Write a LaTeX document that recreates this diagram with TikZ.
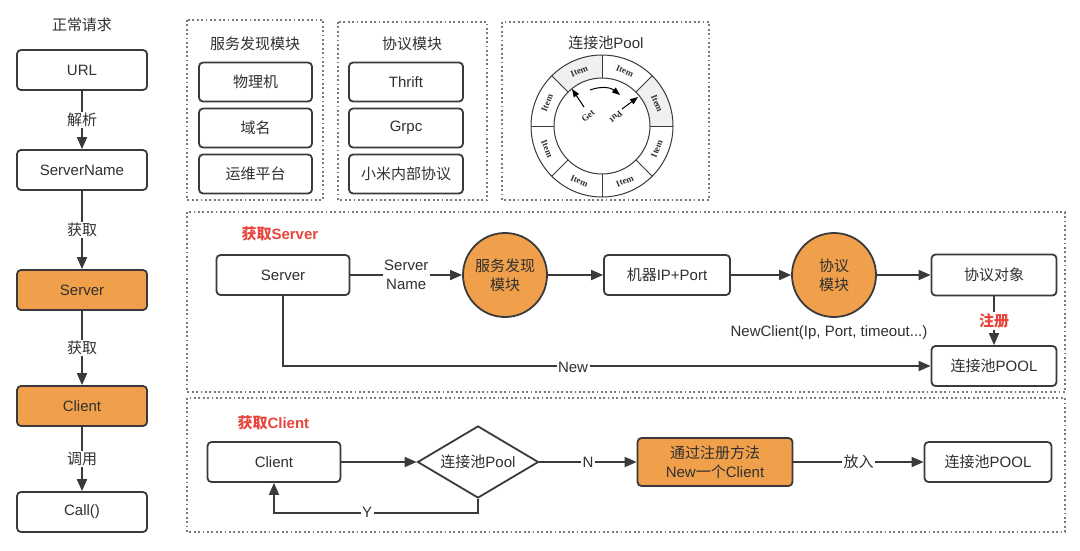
\documentclass[tikz,border=0pt]{standalone}
\usepackage{fontspec}
\setmainfont{Liberation Sans}
\newfontfamily\cjk{Noto Sans CJK SC}
\newfontfamily\itemfont{Liberation Serif}
\usetikzlibrary{arrows.meta,shapes.geometric}
\definecolor{dk}{HTML}{3A3A3A}
\definecolor{txt}{HTML}{303030}
\definecolor{org}{HTML}{F0A04B}
\definecolor{rd}{HTML}{E8453C}
\definecolor{dotc}{HTML}{7A7A7A}
\begin{document}
\begin{tikzpicture}[x=1pt,y=-1pt,
 every node/.style={font=\fontsize{15}{17}\selectfont, text=txt},
 box/.style={draw=dk, line width=1.8pt, rounded corners=4pt, minimum width=130pt, minimum height=40pt, inner sep=0pt, fill=white},
 obox/.style={box, fill=org},
 ocirc/.style={circle, draw=dk, line width=1.8pt, fill=org, minimum size=84pt, inner sep=0pt, align=center, font=\fontsize{15}{19}\selectfont},
 arr/.style={draw=dk, line width=1.8pt, -{Triangle[length=12pt,width=10pt]}},
 lbl/.style={fill=white, inner sep=1.5pt},
 frame/.style={draw=dotc, line width=2pt, dash pattern=on 1.8pt off 2.6pt},
 rtitle/.style={text=rd, font=\fontsize{15}{18}\selectfont\bfseries, anchor=west},
 itm/.style={font=\itemfont\bfseries\fontsize{9}{9}\selectfont, inner sep=0pt},
]
\useasboundingbox[fill=white] (0,0) rectangle (1080,550);

% ---------- left column ----------
\node (t0) at (82,25) {\cjk 正常请求};
\node[box] (url) at (82,70) {URL};
\node[box] (sn) at (82,170) {ServerName};
\node[obox] (sv) at (82,290) {Server};
\node[obox] (cli) at (82,406) {Client};
\node[box] (call) at (82,512) {Call()};
\draw[arr] (url) -- node[lbl]{\cjk 解析} (sn);
\draw[arr] (sn) -- node[lbl]{\cjk 获取} (sv);
\draw[arr] (sv) -- node[lbl]{\cjk 获取} (cli);
\draw[arr] (cli) -- node[lbl]{\cjk 调用} (call);

% ---------- top frames ----------
\draw[frame] (187,20) rectangle (323,200);
\node (t1) at (255,44) {\cjk 服务发现模块};
\node[box, minimum width=113pt, minimum height=39pt] (b11) at (255.5,82) {\cjk 物理机};
\node[box, minimum width=113pt, minimum height=39pt] (b12) at (255.5,128) {\cjk 域名};
\node[box, minimum width=113pt, minimum height=39pt] (b13) at (255.5,174) {\cjk 运维平台};

\draw[frame] (338,22) rectangle (487,200);
\node (t2) at (412,44) {\cjk 协议模块};
\node[box, minimum width=114pt, minimum height=39pt] (b21) at (406,82) {Thrift};
\node[box, minimum width=114pt, minimum height=39pt] (b22) at (406,128) {Grpc};
\node[box, minimum width=114pt, minimum height=39pt] (b23) at (406,174) {\cjk 小米内部协议};

\draw[frame] (502,22) rectangle (709,200);
\node (t3) at (606,43) {{\cjk 连接池}Pool};
\begin{scope}[shift={(602,126)}, y=1pt]
  \fill[gray!12] (0:48) arc[start angle=0,end angle=45,radius=48] -- (45:71) arc[start angle=45,end angle=0,radius=71] -- cycle;
  \fill[gray!12] (90:48) arc[start angle=90,end angle=135,radius=48] -- (135:71) arc[start angle=135,end angle=90,radius=71] -- cycle;
  \draw[line width=1pt, draw=dk] (0,0) circle[radius=71];
  \draw[line width=1pt, draw=dk] (0,0) circle[radius=48];
  \foreach \a in {0,45,...,315} \draw[line width=1pt, draw=dk] (\a:48) -- (\a:71);
  \foreach \a in {22.5,67.5,...,337.5} {
    \pgfmathsetmacro\rot{ifthenelse(sin(\a)>0,\a-90,\a+90)}
    \node[itm, rotate=\rot] at (\a:59.5) {Item};
  }
  \draw[line width=1pt, draw=black, -{Triangle[length=8pt,width=6pt]}] (-18,19) -- (-30,37);
  \node[itm, rotate=40] at (-14,10) {Get};
  \draw[line width=1pt, draw=black, -{Triangle[length=8pt,width=6pt]}] (20,17) -- (36,29);
  \node[itm, rotate=-140] at (14,9) {Put};
  \draw[line width=1pt, draw=black, -{Triangle[length=8pt,width=6pt]}] (-12,36) to[bend left=30] (18,31);
\end{scope}

% ---------- middle: get server ----------
\draw[frame] (187,212) rectangle (1065,392);
\node[rtitle] (t4) at (238,234) {{\cjk 获取}Server};
\node[box, minimum width=133pt] (srv2) at (283,275) {Server};
\node[ocirc] (c1) at (505,275) {\cjk 服务发现\\\cjk 模块};
\node[box, minimum width=126pt] (ip) at (667,275) {{\cjk 机器}IP+Port};
\node[ocirc] (c2) at (834,275) {\cjk 协议\\\cjk 模块};
\node[box, minimum width=125pt, minimum height=41pt] (proto) at (994,275) {\cjk 协议对象};
\node[box, minimum width=125pt] (pool1) at (994,366) {{\cjk 连接池}POOL};
\draw[arr] (srv2) -- node[lbl, align=center, font=\fontsize{15}{19}\selectfont]{Server\\Name} (c1);
\draw[arr] (c1) -- (ip);
\draw[arr] (ip) -- (c2);
\draw[arr] (c2) -- (proto);
\draw[arr] (proto) -- node[lbl, text=rd, font=\cjk\bfseries\fontsize{15}{17}\selectfont]{注册} (pool1);
\node (nc) at (829,333) {NewClient(Ip, Port, timeout...)};
\draw[arr] (srv2.south) |- (pool1.west);
\node[lbl] (nw) at (573,367) {New};

% ---------- bottom: get client ----------
\draw[frame] (187,398) rectangle (1065,532);
\node[rtitle] (t5) at (234,423) {{\cjk 获取}Client};
\node[box, minimum width=133pt] (cl) at (274,462) {Client};
\node[draw=dk, line width=1.8pt, diamond, aspect=1.68, minimum width=121pt, minimum height=72pt, inner sep=0pt, fill=white] (dia) at (478,462) {{\cjk 连接池}Pool};
\node[obox, minimum width=155pt, minimum height=48pt, align=center, font=\fontsize{15}{19}\selectfont] (newc) at (715,462) {\cjk 通过注册方法\\New{\cjk 一个}Client};
\node[box, minimum width=127pt] (pool2) at (988,462) {{\cjk 连接池}POOL};
\draw[arr] (cl) -- (dia);
\draw[arr] (dia) -- node[lbl]{N} (newc);
\draw[arr] (newc) -- node[lbl]{\cjk 放入} (pool2);
\draw[arr] (dia.south) -- ++(0,14) -| (cl.south);
\node[lbl] (yl) at (367,512) {Y};
\end{tikzpicture}
\end{document}
